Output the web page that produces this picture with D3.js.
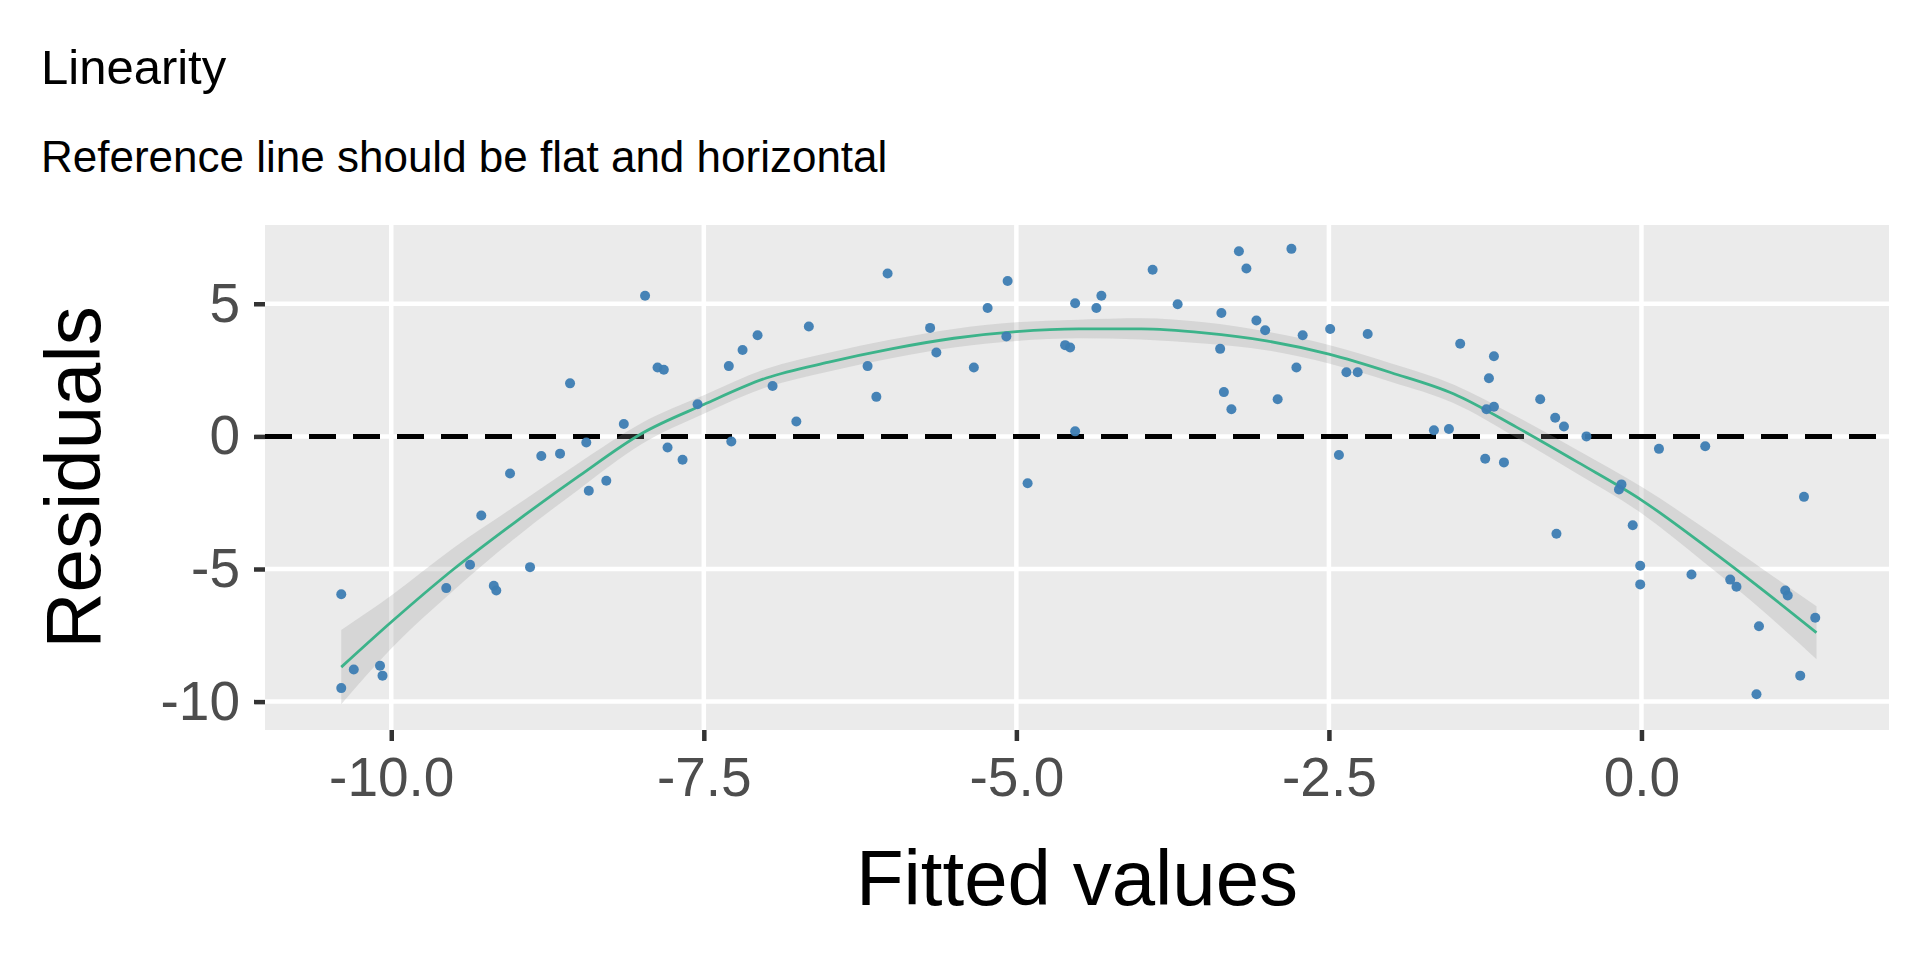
<!DOCTYPE html>
<html><head><meta charset="utf-8">
<script src="https://cdn.jsdelivr.net/npm/d3@7"></script>
<style>body{margin:0;background:#fff}svg{display:block}text{font-family:Arial,"Liberation Sans",sans-serif}</style>
</head><body><svg id="c" width="1920" height="960"></svg>
<script>
const fitted = [-10.40,-10.40,-10.30,-10.09,-10.07,-9.56,-9.37,-9.28,-9.18,-9.16,-9.05,-8.89,-8.80,-8.65,-8.57,-8.44,-8.42,-8.28,-8.14,-7.97,-7.87,-7.82,-7.79,-7.67,-7.55,-7.30,-7.28,-7.19,-7.07,-6.95,-6.76,-6.66,-6.19,-6.12,-6.03,-5.69,-5.64,-5.34,-5.23,-5.08,-5.07,-4.91,-4.61,-4.57,-4.53,-4.53,-4.32,-4.36,-3.91,-3.71,-3.37,-3.36,-3.34,-3.28,-3.22,-3.16,-3.08,-3.01,-2.91,-2.80,-2.76,-2.71,-2.49,-2.42,-2.36,-2.27,-2.19,-1.66,-1.54,-1.45,-1.25,-1.24,-1.22,-1.18,-1.18,-1.10,-0.81,-0.69,-0.62,-0.44,-0.68,-0.18,-0.16,-0.07,-0.01,-0.01,0.14,0.40,0.51,0.71,0.76,0.92,0.94,1.15,1.17,1.27,1.30,1.39];
const residuals = [-5.95,-9.49,-8.79,-8.65,-9.02,-5.72,-4.84,-2.98,-5.63,-5.81,-1.40,-4.93,-0.74,-0.65,2.00,-0.23,-2.05,-1.67,0.47,5.30,2.60,2.51,-0.42,-0.88,1.21,2.65,-0.19,3.26,3.81,1.90,0.56,4.14,2.65,1.49,6.14,4.09,3.16,2.60,4.84,3.77,5.86,-1.77,3.44,3.35,0.19,5.02,5.30,4.84,6.28,4.98,3.30,4.65,1.67,1.02,6.98,6.33,4.37,4.00,1.40,7.07,2.60,3.81,4.05,-0.70,2.42,2.42,3.86,0.23,0.28,3.49,-0.84,1.02,2.19,3.02,1.12,-0.98,1.40,0.70,0.37,0.00,-3.67,-2.00,-1.81,-3.35,-4.88,-5.58,-0.47,-5.21,-0.37,-5.40,-5.67,-9.72,-7.16,-5.81,-6.00,-9.02,-2.28,-6.84];
const smoothX = [-10.4,-10,-9.5,-9,-8.5,-8,-7.5,-7,-6.5,-6,-5.5,-5,-4.5,-4,-3.5,-3,-2.5,-2,-1.5,-1,-0.5,0,0.5,1,1.4];
const smoothY = [-8.7,-7.0,-5.0,-3.2,-1.5,0.1,1.2,2.2,2.8,3.3,3.7,3.95,4.05,4.05,3.9,3.6,3.1,2.4,1.6,0.35,-1.0,-2.4,-4.1,-5.9,-7.4];
const smoothSE = [1.4,1.0,0.8,0.6,0.5,0.4,0.35,0.35,0.35,0.35,0.35,0.35,0.35,0.4,0.4,0.35,0.35,0.35,0.35,0.4,0.45,0.5,0.65,0.8,1.0];
const xTicks = [-10,-7.5,-5,-2.5,0];
const yTicks = [5,0,-5,-10];
const titleText = "Linearity", subtitleText = "Reference line should be flat and horizontal";

const svg = d3.select("#c");
const L=265,R=1889,T=225,B=730;
const x = d3.scaleLinear().domain([-11.01,1.98]).range([L,R]);
const y = d3.scaleLinear().domain([-11.07,7.97]).range([B,T]);
svg.append("rect").attr("x",L).attr("y",T).attr("width",R-L).attr("height",B-T).attr("fill","#EBEBEB");
const g = svg.append("g");
xTicks.forEach(v=>g.append("line").attr("x1",x(v)).attr("x2",x(v)).attr("y1",T).attr("y2",B).attr("stroke","#fff").attr("stroke-width",4.5));
yTicks.forEach(v=>g.append("line").attr("y1",y(v)).attr("y2",y(v)).attr("x1",L).attr("x2",R).attr("stroke","#fff").attr("stroke-width",4.5));
svg.append("line").attr("x1",L).attr("x2",R).attr("y1",y(0)).attr("y2",y(0)).attr("stroke","#000").attr("stroke-width",5).attr("stroke-dasharray","27,17");
const idx = d3.range(smoothX.length);
svg.append("path").attr("d",d3.area().curve(d3.curveMonotoneX).x(i=>x(smoothX[i])).y0(i=>y(smoothY[i]-smoothSE[i])).y1(i=>y(smoothY[i]+smoothSE[i]))(idx)).attr("fill","#999").attr("fill-opacity",0.25);
svg.append("path").attr("d",d3.line().curve(d3.curveMonotoneX).x(i=>x(smoothX[i])).y(i=>y(smoothY[i]))(idx)).attr("fill","none").attr("stroke","#3CB38A").attr("stroke-width",2.8);
svg.selectAll("circle.p").data(d3.range(fitted.length)).join("circle").attr("cx",i=>x(fitted[i])).attr("cy",i=>y(residuals[i])).attr("r",5).attr("fill","#3D7DB3").attr("fill-opacity",0.95);
const xa = svg.append("g").attr("transform",`translate(0,${B})`).call(d3.axisBottom(x).tickValues(xTicks).tickFormat(d=>(d<0?"-":"")+Math.abs(d).toFixed(1)).tickSize(11).tickPadding(8));
const ya = svg.append("g").attr("transform",`translate(${L},0)`).call(d3.axisLeft(y).tickValues(yTicks).tickFormat(d=>d<0?"-"+Math.abs(d):d).tickSize(11).tickPadding(14));
[xa,ya].forEach(a=>{a.select(".domain").remove();a.selectAll(".tick line").attr("stroke","#333").attr("stroke-width",4.5);a.selectAll("text").attr("font-size",55).attr("fill","#4D4D4D");});
xa.selectAll("text").attr("dy","0.85em");
svg.append("text").attr("x",(L+R)/2).attr("y",905).attr("text-anchor","middle").attr("font-size",78).text("Fitted values");
svg.append("text").attr("transform",`translate(100,${(T+B)/2}) rotate(-90)`).attr("text-anchor","middle").attr("font-size",78).text("Residuals");
svg.append("text").attr("x",41).attr("y",84).attr("font-size",49).text(titleText);
svg.append("text").attr("x",41).attr("y",172).attr("font-size",44).text(subtitleText);
</script></body></html>
